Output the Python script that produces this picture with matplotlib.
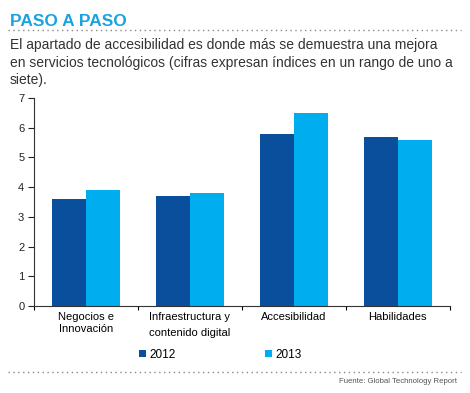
import matplotlib.pyplot as plt
import numpy as np
from matplotlib.lines import Line2D

categories = ['Negocios e\nInnovación', 'Infraestructura y\ncontenido digital', 'Accesibilidad', 'Habilidades']
values2012 = [3.6, 3.7, 5.8, 5.7]
values2013 = [3.9, 3.8, 6.5, 5.6]
years = ['2012', '2013']

darkBlue = '#0a4f9c'
lightBlue = '#00adef'
titleBlue = '#1aa3e0'
textColor = '#333333'

plt.rcParams['font.family'] = ['Liberation Sans', 'DejaVu Sans']

fig = plt.figure(figsize=(4.7, 3.93), dpi=100)
ax = fig.add_axes([0.0723, 0.2214, 0.8847, 0.5292])

x = np.arange(len(categories))
barWidth = 0.33
b1 = ax.bar(x - barWidth / 2, values2012, width=barWidth, color=darkBlue, label=years[0])
b2 = ax.bar(x + barWidth / 2, values2013, width=barWidth, color=lightBlue, label=years[1])

ax.set_xlim(-0.5, 3.5)
ax.set_ylim(0, 7)
ax.set_yticks(range(0, 8))
ax.tick_params(axis='y', direction='out', length=4, width=0.8, labelsize=8, pad=3, colors='#222222')
ax.set_xticks([-0.5, 0.5, 1.5, 2.5, 3.5])
ax.set_xticklabels([])
ax.tick_params(axis='x', direction='out', length=3, width=0.8)
ax.set_xticks(x, minor=True)
ax.set_xticklabels(categories, minor=True, fontsize=8)
ax.tick_params(axis='x', which='minor', length=0, pad=4)
for i, lbl in enumerate(ax.get_xticklabels(minor=True)):
    lbl.set_verticalalignment('top')
    lbl.set_linespacing(1.3 if i == 0 else 1.8)
for s in ['top', 'right']:
    ax.spines[s].set_visible(False)
for s in ['left', 'bottom']:
    ax.spines[s].set_color('#333333')
    ax.spines[s].set_linewidth(0.8)

leg = fig.legend(handles=[b1, b2], labels=years, loc='center left', bbox_to_anchor=(0.274, 0.097),
                 ncol=2, frameon=False, handlelength=0.55, handleheight=0.55, handletextpad=0.3,
                 columnspacing=7.6, prop={'size': 8.5})

# header
fig.text(0.021, 0.965, 'PASO A PASO', color=titleBlue, fontsize=12.5, fontweight='bold', va='top')
fig.add_artist(Line2D([0.018, 0.98], [0.923, 0.923], color='#888888', lw=1, linestyle=(0, (1, 2.5))))
fig.text(0.021, 0.903, 'El apartado de accesibilidad es donde más se demuestra una mejora\n'
         'en servicios tecnológicos (cifras expresan índices en un rango de uno a\nsiete).',
         color=textColor, fontsize=10, va='top', linespacing=1.33)

# footer
fig.add_artist(Line2D([0.018, 0.98], [0.0534, 0.0534], color='#888888', lw=1, linestyle=(0, (1, 2.5))))
fig.text(0.972, 0.0305, 'Fuente: Global Technology Report', color='#555555', fontsize=5.6, ha='right', va='center')

fig.savefig('out.png', dpi=100)
